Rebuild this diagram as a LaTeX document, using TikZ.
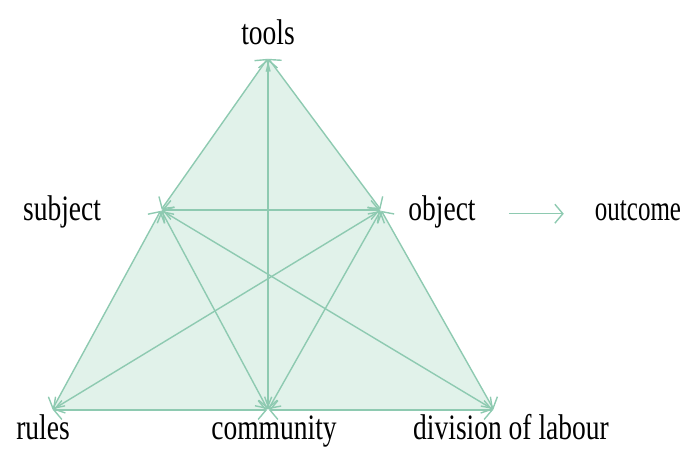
\documentclass[tikz,border=0pt]{standalone}
\usepackage{fontspec}
\setmainfont{Liberation Serif}
\usetikzlibrary{arrows.meta}

\definecolor{actline}{RGB}{142,202,177}
\definecolor{actfill}{RGB}{225,242,234}

\newcommand{\tallword}[2][1.3]{\scalebox{1}[#1]{#2}}

\begin{document}
\begin{tikzpicture}[x=1pt, y=-1pt,
    barb/.tip={Straight Barb[length=8pt,width=19pt]},
    link/.style={actline, line width=1.4pt, barb-barb, shorten <=1pt, shorten >=1pt},
    vtxtext/.style={font=\fontsize{27.5}{30}\selectfont, inner sep=0pt, anchor=base}]

    \useasboundingbox (0,0) rectangle (690,448);

    % 頂点
    \coordinate (T) at (268,58);
    \coordinate (S) at (161,210);
    \coordinate (O) at (381,210);
    \coordinate (R) at (52,410);
    \coordinate (C) at (268,410);
    \coordinate (D) at (494,410);

    % 三角形の塗り
    \fill[actfill] (T) -- (O) -- (D) -- (C) -- (R) -- (S) -- cycle;

    % 頂点どうしを結ぶ矢印
    \foreach \a/\b in {T/S,T/O,T/C,S/O,S/R,S/C,S/D,O/R,O/C,O/D,R/C,C/D} {
        \draw[link] (\a) -- (\b);
    }

    % ラベル
    \node[vtxtext] (tools) at (268,44) {\tallword{tools}};
    \node[vtxtext] (subject) at (62,220) {\tallword{subject}};
    \node[vtxtext] (object) at (442,220) {\tallword{object}};
    \node[vtxtext, font=\fontsize{25}{28}\selectfont] (outcome) at (638,220) {\tallword[1.42]{outcome}};
    \node[vtxtext] (rules) at (43,439) {\tallword{rules}};
    \node[vtxtext] (community) at (274,439) {\tallword{community}};
    \node[vtxtext] (division) at (511,439) {\tallword{division of labour}};

    % object → outcome
    \draw[actline, line width=1.4pt, -barb, shorten <=33pt, shorten >=31pt]
        ([yshift=4pt]object.mid east) -- ([yshift=4pt]outcome.mid west);

\end{tikzpicture}
\end{document}
